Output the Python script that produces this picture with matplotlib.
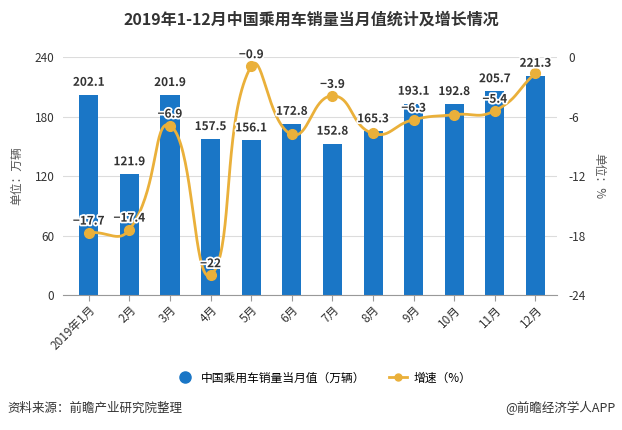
import numpy as np
import matplotlib
matplotlib.use("Agg")
import matplotlib.pyplot as plt
import matplotlib.patheffects as pe
from matplotlib.lines import Line2D

plt.rcParams['font.family'] = ['Noto Sans CJK SC', 'DejaVu Sans']
plt.rcParams['axes.unicode_minus'] = False

months = ["2019年1月", "2月", "3月", "4月", "5月", "6月", "7月", "8月", "9月", "10月", "11月", "12月"]
sales = [202.1, 121.9, 201.9, 157.5, 156.1, 172.8, 152.8, 165.3, 193.1, 192.8, 205.7, 221.3]
growth = [-17.7, -17.4, -6.9, -22.0, -0.9, -7.8, -3.9, -7.7, -6.3, -5.8, -5.4, -1.6]
growth_labels = ["−17.7", "−17.4", "−6.9", "−22", "−0.9", "", "−3.9", "", "−6.3", "", "−5.4", ""]

BLUE = "#1a76c6"
GOLD = "#eab03a"

fig = plt.figure(figsize=(6.22, 4.30), dpi=100)
ax = fig.add_axes([0.101, 0.314, 0.7945, 0.553])
ax2 = ax.twinx()

x = np.arange(len(months))
ax.bar(x, sales, width=0.47, color=BLUE, zorder=2)
ax.set_ylim(0, 240)
ax.set_yticks([0, 60, 120, 180, 240])
ax.set_xlim(-0.64, 11.53)
ax.set_xticks(x)
ax.set_xticklabels(months, rotation=45, ha='right', rotation_mode='anchor', fontsize=8.5, color='#333333')
ax.grid(axis='y', color='#dcdcdc', linewidth=0.8, zorder=0)
ax.set_axisbelow(True)
for s in ['top', 'right', 'left']:
    ax.spines[s].set_visible(False)
ax.spines['bottom'].set_color('#999999')
ax.tick_params(axis='y', length=0, labelsize=8.5, labelcolor='#333333', pad=6)
ax.tick_params(axis='x', length=4, color='#999999', pad=2)
ax.set_ylabel("单位：万辆", fontsize=8.5, color='#555555', labelpad=8)

ax2.set_ylim(-24, 0)
ax2.set_yticks([-24, -18, -12, -6, 0])
ax2.set_yticklabels(["-24", "-18", "-12", "-6", "0"])
for s in ['top', 'right', 'left', 'bottom']:
    ax2.spines[s].set_visible(False)
ax2.tick_params(axis='y', length=0, labelsize=8.5, labelcolor='#333333', pad=8)
ax2.set_ylabel("单位：%", fontsize=8.5, color='#555555', rotation=-90, labelpad=14)

# echarts-like smoothing computed in display (pixel) space
fig.canvas.draw()
pts = ax2.transData.transform(np.column_stack([x, growth]))
smooth = 0.5
n = len(pts)
cps = []
for i in range(n):
    p = pts[i]
    prev = pts[i-1] if i > 0 else p
    nxt = pts[i+1] if i < n-1 else p
    v = (nxt - prev) * smooth
    d0 = np.hypot(*(p - prev)); d1 = np.hypot(*(p - nxt))
    s = d0 + d1
    if s > 0:
        d0 /= s; d1 /= s
    cps.append((p - v*d0, p + v*d1))
curve = []
t = np.linspace(0, 1, 40)[:, None]
for i in range(n-1):
    P0 = pts[i]; P1 = cps[i][1]; P2 = cps[i+1][0]; P3 = pts[i+1]
    seg = (1-t)**3*P0 + 3*(1-t)**2*t*P1 + 3*(1-t)*t**2*P2 + t**3*P3
    curve.append(seg)
curve = np.vstack(curve)
curve_data = ax2.transData.inverted().transform(curve)
ax2.plot(curve_data[:, 0], curve_data[:, 1], color=GOLD, linewidth=2, zorder=3)
ax2.plot(x, growth, 'o', color=GOLD, markersize=7, markeredgecolor=GOLD, zorder=4)

for xi, g, lab in zip(x, growth, growth_labels):
    if lab:
        ax2.text(xi, g + 0.5, lab, ha='center', va='bottom', fontsize=8.5, fontweight='bold',
                 color='#333333', zorder=5,
                 path_effects=[pe.withStroke(linewidth=2.5, foreground='white')])

for xi, v in zip(x, sales):
    ax2.text(xi, v + 6, f"{v}", transform=ax.transData, ha='center', va='bottom', fontsize=8.5,
             fontweight='bold', color='#333333', zorder=6,
             path_effects=[pe.withStroke(linewidth=2.5, foreground='white')])

fig.text(0.5, 0.955, "2019年1-12月中国乘用车销量当月值统计及增长情况", ha='center', va='center',
         fontsize=11.5, fontweight='bold', color='#333333')

handles = [Line2D([], [], marker='o', linestyle='none', color=BLUE, markersize=8),
           Line2D([], [], marker='o', linestyle='-', color=GOLD, markersize=5, linewidth=2)]
fig.legend(handles, ["中国乘用车销量当月值（万辆）", "增速（%）"], loc='center', bbox_to_anchor=(0.52, 0.121),
           ncol=2, frameon=False, fontsize=8.5, handlelength=1.6, columnspacing=2.0, handletextpad=0.5)

fig.text(0.012, 0.05, "资料来源：前瞻产业研究院整理", ha='left', va='center', fontsize=9, color='#333333')
fig.text(0.99, 0.05, "@前瞻经济学人APP", ha='right', va='center', fontsize=9, color='#333333')

fig.savefig("out.png", dpi=100)
